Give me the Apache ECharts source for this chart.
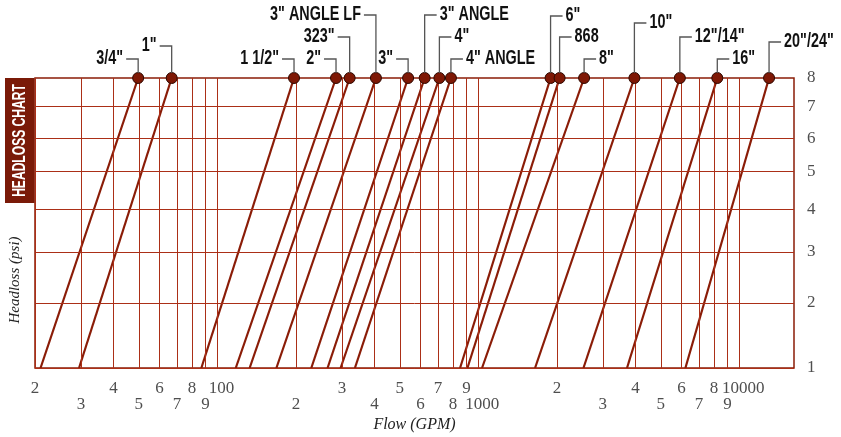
<!DOCTYPE html>
<html><head><meta charset="utf-8">
<script src="https://cdn.jsdelivr.net/npm/echarts@6/dist/echarts.min.js"></script>
<style>html,body{margin:0;padding:0;background:#fff}#c{width:841px;height:437px}</style>
</head><body><div id="c"></div>
<script>
// ---- data ----
const valveNames = ['3/4"', '1"', '1 1/2"', '2"', '323"', '3" ANGLE LF', '3"', '3" ANGLE', '4"', '4" ANGLE', '6"', '868', '8"', '10"', '12"/14"', '16"', '20"/24"'];
const flowAt1psi = [21, 29.5, 86.8, 117.6, 132.9, 168.3, 229, 264.3, 296.6, 336.5, 851, 908, 1033, 1649, 2528, 3711, 6214];
const flowAt8psi = [49.7, 66.8, 196.6, 284.8, 321.2, 405, 538, 622.6, 709, 785, 1891, 2048, 2542, 3962, 5917, 8233, 13000];
const headlossLow = 1;
const headlossHigh = 8;
const gridFlows = [20, 30, 40, 50, 60, 70, 80, 90, 100, 200, 300, 400, 500, 600, 700, 800, 900, 1000, 2000, 3000, 4000, 5000, 6000, 7000, 8000, 9000, 10000];
const flowTickLabels = ['2', '3', '4', '5', '6', '7', '8', '9', '100', '2', '3', '4', '5', '6', '7', '8', '9', '1000', '2', '3', '4', '5', '6', '7', '8', '9', '10000'];
const headlossTicks = [1, 2, 3, 4, 5, 6, 7, 8];
const headlossTickLabels = ['1', '2', '3', '4', '5', '6', '7', '8'];
const flowMin = 20, flowMax = 16200;

// ---- layout (callout leader heights in px and side of the label) ----
const calloutLevel = [59, 46, 59, 59, 37, 15, 59, 15, 37, 59, 16, 37, 59, 23, 37, 59, 42];
const calloutSide = ['L', 'L', 'L', 'L', 'L', 'L', 'L', 'R', 'R', 'R', 'R', 'R', 'R', 'R', 'R', 'R', 'R'];

// Headloss axis of the reference is a square-root scale
const hScale = h => Math.sqrt(h);

const RED = '#8a1c07';
const GRID = '#ab2f17';
const serif = '"Liberation Serif","DejaVu Serif",serif';
const sans = '"Liberation Sans",Arial,sans-serif';

const chart = echarts.init(document.getElementById('c'), null, {renderer: 'canvas'});

const series = [];
// grid lines + tick labels
series.push({
  type: 'scatter', z: 1, silent: true, clip: false, animation: false,
  symbolSize: 0, itemStyle: {color: 'transparent'},
  data: gridFlows.map((v, i) => {
    const decade = Math.floor(i / 9), j = i % 9;
    const row = (decade + j) % 2;
    return {value: [v, hScale(headlossLow)], name: flowTickLabels[i],
      label: {show: true, position: 'bottom', distance: row ? 28.5 : 12, formatter: '{b}',
        offset: [j === 8 ? 4 : 0, 0],
        fontFamily: serif, fontSize: 17, lineHeight: 17, color: '#222'}};
  }),
  markLine: {
    silent: true, animation: false, symbol: ['none', 'none'], label: {show: false},
    lineStyle: {color: GRID, width: 1, type: 'solid', opacity: 1},
    emphasis: {disabled: true},
    data: gridFlows.map(v => ({xAxis: v})).concat(headlossTicks.map(h => ({yAxis: hScale(h)})))
  }
});
// right-hand headloss labels
series.push({
  type: 'scatter', z: 1, silent: true, clip: false, animation: false,
  symbolSize: 0, itemStyle: {color: 'transparent'},
  data: headlossTicks.map((h, i) => ({value: [flowMax, hScale(h)], name: headlossTickLabels[i]})),
  label: {show: true, position: 'right', distance: 13, formatter: '{b}',
    fontFamily: serif, fontSize: 17, color: '#222'}
});
// headloss lines
valveNames.forEach((n, i) => {
  series.push({
    type: 'line', name: n, z: 3, animation: false, showSymbol: false, silent: true,
    lineStyle: {color: RED, width: 2.2},
    data: [[flowAt1psi[i], hScale(headlossLow)], [flowAt8psi[i], hScale(headlossHigh)]]
  });
});
// dots
series.push({
  type: 'scatter', z: 5, clip: false, animation: false, symbolSize: 11,
  itemStyle: {color: '#7e1805', borderColor: '#2e0800', borderWidth: 1, opacity: 1},
  data: flowAt8psi.map(f => [f, hScale(headlossHigh)])
});

chart.setOption({
  animation: false,
  grid: {left: 35, right: 47, top: 78, bottom: 69, outerBoundsMode: 'none', containLabel: false,
    show: true, borderColor: RED, borderWidth: 1.5, backgroundColor: 'transparent'},
  xAxis: {type: 'log', logBase: 10, min: flowMin, max: flowMax,
    name: 'Flow (GPM)', nameLocation: 'middle', nameGap: 49,
    nameTextStyle: {fontFamily: serif, fontStyle: 'italic', fontSize: 16, color: '#222'},
    axisLine: {show: false}, axisTick: {show: false}, axisLabel: {show: false}, splitLine: {show: false}},
  yAxis: {type: 'value', min: hScale(headlossLow), max: hScale(headlossHigh),
    axisLine: {show: false}, axisTick: {show: false}, axisLabel: {show: false}, splitLine: {show: false}},
  series: series
});

// callouts with leader lines
const graphics = [];
valveNames.forEach((n, i) => {
  const p = chart.convertToPixel({xAxisIndex: 0, yAxisIndex: 0}, [flowAt8psi[i], hScale(headlossHigh)]);
  const lvl = calloutLevel[i];
  const dir = calloutSide[i] === 'L' ? -1 : 1;
  graphics.push({type: 'polyline', z: 10, silent: true,
    shape: {points: [[p[0], p[1] - 5], [p[0], lvl], [p[0] + dir * 12, lvl]]},
    style: {stroke: '#555', lineWidth: 1.3, fill: null}});
  graphics.push({type: 'text', z: 10, silent: true, x: p[0] + dir * 15, y: lvl - 1, scaleX: 0.72,
    style: {text: n, font: 'bold 20px ' + sans, fill: '#111',
      align: dir < 0 ? 'right' : 'left', verticalAlign: 'middle'}});
});
// vertical title box
graphics.push({type: 'rect', z: 10, silent: true, shape: {x: 5, y: 78, width: 29.5, height: 125}, style: {fill: '#7a1a08'}});
graphics.push({type: 'text', z: 11, silent: true, x: 20, y: 140.5, rotation: Math.PI / 2, scaleX: 0.69,
  style: {text: 'HEADLOSS CHART', font: 'bold 17.5px ' + sans, fill: '#fff', align: 'center', verticalAlign: 'middle'}});
graphics.push({type: 'text', z: 10, silent: true, x: 15, y: 280, rotation: Math.PI / 2,
  style: {text: 'Headloss (psi)', font: 'italic 15px ' + serif, fill: '#222', align: 'center', verticalAlign: 'middle'}});
chart.setOption({graphic: graphics});
</script></body></html>
